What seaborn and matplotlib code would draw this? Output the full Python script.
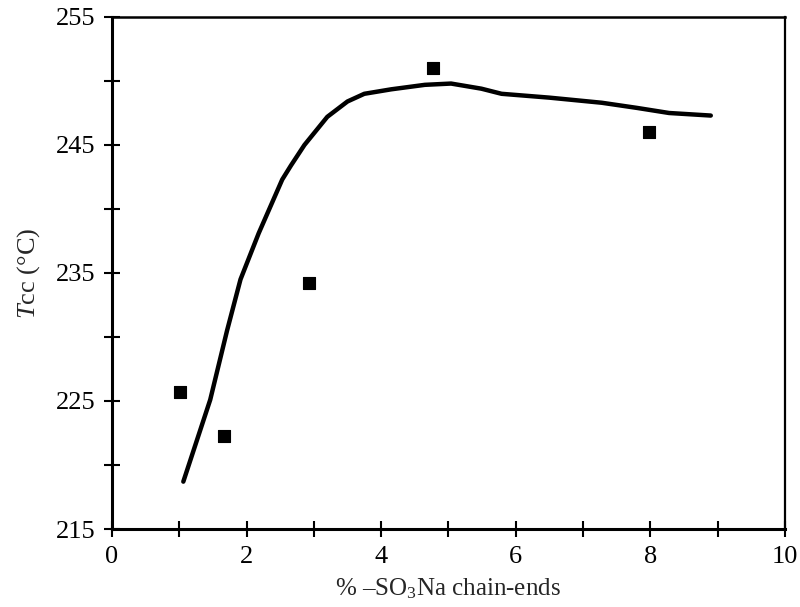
import matplotlib
matplotlib.use("Agg")
import matplotlib.pyplot as plt
import seaborn as sns
import pandas as pd
from matplotlib.ticker import FixedLocator

# Data points (measured)
pt_x = [1.01, 1.66, 2.93, 4.77, 7.98]
pt_y = [225.7, 222.3, 234.2, 251.0, 246.0]

# Fitted curve
curve_x = [1.06, 1.46, 1.71, 1.91, 2.18, 2.53, 2.66, 2.86, 3.20, 3.50, 3.75,
           4.15, 4.65, 5.04, 5.49, 5.79, 6.50, 7.28, 7.80, 8.28, 8.90]
curve_y = [218.7, 225.1, 230.5, 234.5, 238.1, 242.3, 243.4, 245.0, 247.2,
           248.4, 249.0, 249.35, 249.7, 249.8, 249.4, 249.0, 248.7, 248.3,
           247.9, 247.5, 247.3]

x_ticks_major = [0, 2, 4, 6, 8, 10]
x_ticks_minor = [1, 3, 5, 7, 9]
y_ticks_major = [215, 225, 235, 245, 255]
y_ticks_minor = [220, 230, 240, 250]

x_label = "% \u2013SO$_3$Na chain-ends"
y_label = "$\\mathit{T}$cc (\u00b0C)"

sns.set_style("ticks")
plt.rcParams['font.family'] = ['Liberation Serif', 'DejaVu Serif']
plt.rcParams['mathtext.fontset'] = 'custom'
plt.rcParams['mathtext.rm'] = 'Liberation Serif'
plt.rcParams['mathtext.it'] = 'Liberation Serif:italic'

fig = plt.figure(figsize=(8, 6.07), dpi=100)
ax = fig.add_axes([0.14, 0.1285, 0.841, 0.8435])

df_c = pd.DataFrame({"x": curve_x, "y": curve_y})
df_p = pd.DataFrame({"x": pt_x, "y": pt_y})
sns.lineplot(data=df_c, x="x", y="y", ax=ax, color="black", linewidth=3.2,
             sort=False, solid_capstyle="round", solid_joinstyle="round")
sns.scatterplot(data=df_p, x="x", y="y", ax=ax, color="black", marker="s",
                s=70, edgecolor="black", linewidth=0.8, zorder=3)

ax.set_xlim(0, 10)
ax.set_ylim(215, 255)
ax.xaxis.set_major_locator(FixedLocator(x_ticks_major))
ax.xaxis.set_minor_locator(FixedLocator(x_ticks_minor))
ax.yaxis.set_major_locator(FixedLocator(y_ticks_major))
ax.yaxis.set_minor_locator(FixedLocator(y_ticks_minor))
ax.tick_params(which="both", direction="inout", length=12, width=1.5,
               colors="black", labelsize=19)
ax.tick_params(axis="x", pad=6)
ax.tick_params(axis="y", pad=6)
for sp in ax.spines.values():
    sp.set_visible(True)
    sp.set_linewidth(2.2)
    sp.set_color("black")
ax.spines["right"].set_linewidth(1.6)
ax.spines["top"].set_linewidth(1.8)

ax.set_xlabel(x_label, fontsize=18, labelpad=6)
ax.set_ylabel(y_label, fontsize=19, labelpad=10)

fig.savefig("out.png", dpi=100, facecolor="white")
